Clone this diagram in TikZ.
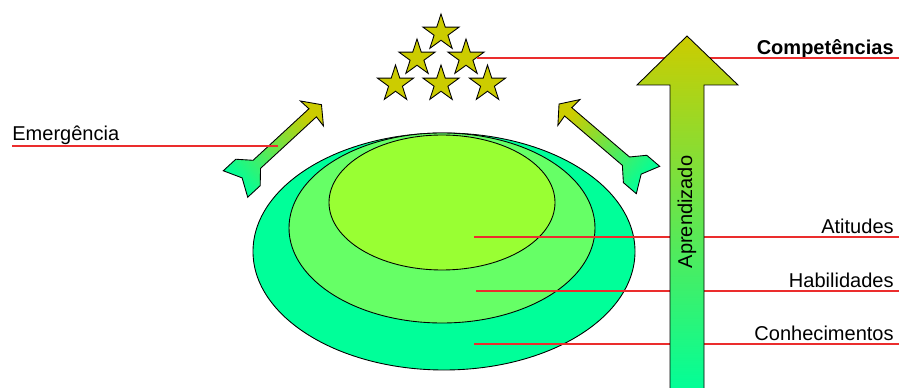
\documentclass[tikz,border=0pt]{standalone}
\usepackage{fontspec}
\setmainfont{Liberation Sans}
\usepackage{xcolor}
\usetikzlibrary{shapes.geometric,positioning}

\definecolor{olivestar}{RGB}{204,204,0}
\definecolor{conhgreen}{RGB}{0,255,153}
\definecolor{habilgreen}{RGB}{102,255,102}
\definecolor{atitgreen}{RGB}{153,255,51}
\definecolor{guidered}{RGB}{235,45,45}

\begin{document}
\begin{tikzpicture}[
    x=0.02cm, y=-0.02cm,
    every node/.style={font=\fontsize{11.4}{13.7}\selectfont},
    layer/.style={draw=black, line width=0.5pt},
    guide/.style={draw=guidered, line width=0.6pt},
    lbl/.style={anchor=south east, inner xsep=0.1cm, inner ysep=0.06cm, text depth=0pt},
    starnode/.style={star, star points=5, star point ratio=2.618, draw=black, line width=0.5pt, fill=olivestar, minimum size=0.76cm, inner sep=0pt},
    flecha/.style={draw=black, line width=0.5pt, top color=olivestar, bottom color=conhgreen}
]
    \useasboundingbox (0,0) rectangle (899,388);

    % camadas
    \draw [layer, fill=conhgreen] (444,251.5) ellipse [x radius=191, y radius=118.5];
    \draw [layer, fill=habilgreen] (442,228) ellipse [x radius=153, y radius=95];
    \draw [layer, fill=atitgreen] (442,202.5) ellipse [x radius=113, y radius=67.5];

    % setas de emergencia
    \begin{scope}[shift={(235.5,184)}, rotate=42.7]
        \shade [flecha, shading angle=-47.3] (9,0) -- (0,18) -- (17,18) -- (29,5.5) -- (105,5.5) -- (104,17) -- (117,0)
            -- (104,-17) -- (105,-5.5) -- (29,-5.5) -- (17,-18) -- (0,-18) -- cycle;
    \end{scope}
    \begin{scope}[shift={(648,180)}, rotate=139.5]
        \shade [flecha, shading angle=49.5] (9,0) -- (0,18) -- (17,18) -- (29,5.5) -- (105,5.5) -- (104,17) -- (117,0)
            -- (104,-17) -- (105,-5.5) -- (29,-5.5) -- (17,-18) -- (0,-18) -- cycle;
    \end{scope}

    % estrelas
    \node [starnode] (s1) at (441,33) {};
    \node [starnode] (s2) at (417,58) {};
    \node [starnode] (s3) at (466,58) {};
    \node [starnode] (s4) at (395.5,84) {};
    \node [starnode] (s5) at (441,84) {};
    \node [starnode] (s6) at (487.5,84) {};

    % rotulos
    \node [lbl, font=\fontsize{11.4}{13.7}\selectfont\bfseries] (compet) at (899,58) {Competências};
    \node [lbl] (atit) at (899,237) {Atitudes};
    \node [lbl] (habil) at (899,291) {Habilidades};
    \node [lbl] (conh) at (899,344) {Conhecimentos};
    \node [lbl, anchor=south west, inner xsep=0pt, inner ysep=0.1cm] (emerg) at (12,146) {Emergência};

    \coordinate (atitpt) at (474,237);
    \coordinate (habilpt) at (476,291);
    \coordinate (conhpt) at (474,344);
    \coordinate (emergpt) at (278,146);

    \draw [guide] (s3) -- (compet.south east);
    \draw [guide] (atitpt) -- (atit.south east);
    \draw [guide] (habilpt) -- (habil.south east);
    \draw [guide] (conhpt) -- (conh.south east);
    \draw [guide] (emerg.south west) -- (emergpt);

    % aprendizado
    \shade [flecha] (670,392) -- (670,85) -- (637,85) -- (687,36) -- (738,85) -- (704,85) -- (704,392) -- cycle;
    \node [rotate=90] (aprend) at (687,212) {Aprendizado};
\end{tikzpicture}
\end{document}
